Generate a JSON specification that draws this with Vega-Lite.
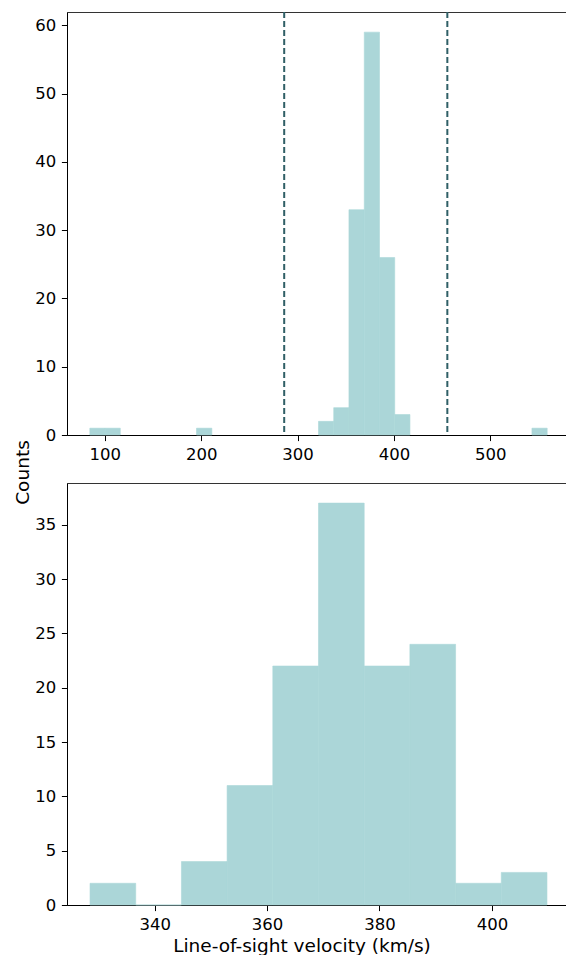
{
  "$schema": "https://vega.github.io/schema/vega-lite/v6.json",
  "padding": {"left": 12, "top": 10, "right": 0, "bottom": 0},
  "background": "white",
  "config": {
    "font": "DejaVu Sans",
    "view": {"stroke": "#333", "strokeWidth": 1},
    "axis": {
      "grid": false,
      "domainColor": "black",
      "domainWidth": 1,
      "tickColor": "black",
      "tickSize": 5.6,
      "tickWidth": 1,
      "labelPadding": 5.6,
      "labelFont": "DejaVu Sans",
      "labelFontSize": 16.5,
      "labelColor": "black",
      "titleFont": "DejaVu Sans",
      "titleFontSize": 18.5,
      "titleFontWeight": "normal",
      "titleColor": "black"
    },
    "concat": {"spacing": 48}
  },
  "bounds": "flush",
  "datasets": {
    "top": [
      {"lo": 84.4, "hi": 100.2, "count": 1},
      {"lo": 100.2, "hi": 116.0, "count": 1},
      {"lo": 195.1, "hi": 211.0, "count": 1},
      {"lo": 321.7, "hi": 337.5, "count": 2},
      {"lo": 337.5, "hi": 353.3, "count": 4},
      {"lo": 353.3, "hi": 369.2, "count": 33},
      {"lo": 369.2, "hi": 385.0, "count": 59},
      {"lo": 385.0, "hi": 400.8, "count": 26},
      {"lo": 400.8, "hi": 416.6, "count": 3},
      {"lo": 543.2, "hi": 559.0, "count": 1}
    ],
    "cuts": [
      {"v": 286.1},
      {"v": 455.4}
    ],
    "bottom": [
      {"lo": 328.5, "hi": 336.63, "count": 2},
      {"lo": 336.63, "hi": 344.76, "count": 0},
      {"lo": 344.76, "hi": 352.89, "count": 4},
      {"lo": 352.89, "hi": 361.02, "count": 11},
      {"lo": 361.02, "hi": 369.15, "count": 22},
      {"lo": 369.15, "hi": 377.28, "count": 37},
      {"lo": 377.28, "hi": 385.41, "count": 22},
      {"lo": 385.41, "hi": 393.54, "count": 24},
      {"lo": 393.54, "hi": 401.67, "count": 2},
      {"lo": 401.67, "hi": 409.8, "count": 3}
    ]
  },
  "vconcat": [
    {
      "width": 503,
      "height": 423,
      "layer": [
        {
          "data": {"name": "top"},
          "mark": {"type": "rect", "color": "#abd6d8", "stroke": "#abd6d8", "strokeWidth": 0.6},
          "encoding": {
            "x": {"field": "lo", "type": "quantitative", "scale": {"domain": [60.7, 582.7], "nice": false, "zero": false},
                  "axis": {"values": [100, 200, 300, 400, 500], "title": null}},
            "x2": {"field": "hi"},
            "y": {"field": "count", "type": "quantitative", "scale": {"domain": [0, 61.95], "nice": false},
                  "axis": {"values": [0, 10, 20, 30, 40, 50, 60], "title": "Counts", "titleX": -39, "titleY": 460, "titleBaseline": "alphabetic"}},
            "y2": {"datum": 0}
          }
        },
        {
          "data": {"name": "cuts"},
          "mark": {"type": "rule", "color": "#2f5f66", "strokeWidth": 2, "strokeDash": [6, 3]},
          "encoding": {
            "x": {"field": "v", "type": "quantitative"}
          }
        }
      ]
    },
    {
      "width": 503,
      "height": 422,
      "data": {"name": "bottom"},
      "mark": {"type": "rect", "color": "#abd6d8", "stroke": "#abd6d8", "strokeWidth": 0.6},
      "encoding": {
        "x": {"field": "lo", "type": "quantitative", "scale": {"domain": [324.4, 413.9], "nice": false, "zero": false},
              "axis": {"values": [340, 360, 380, 400], "title": "Line-of-sight velocity (km/s)", "titlePadding": 4, "titleX": 234.5, "titleAlign": "center"}},
        "x2": {"field": "hi"},
        "y": {"field": "count", "type": "quantitative", "scale": {"domain": [0, 38.85], "nice": false},
              "axis": {"values": [0, 5, 10, 15, 20, 25, 30, 35], "title": null}},
        "y2": {"datum": 0}
      }
    }
  ]
}
